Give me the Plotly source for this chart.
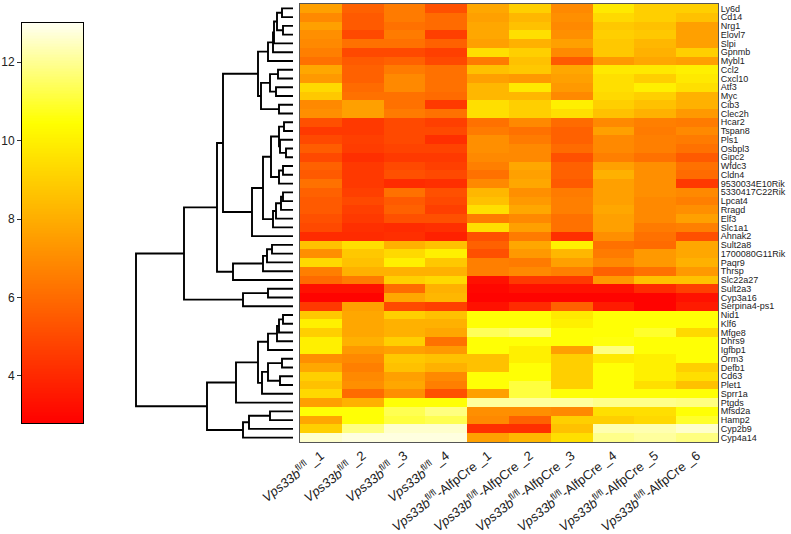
import numpy as np
import plotly.graph_objects as go

# ---------------- data ----------------
genes = ["Ly6d", "Cd14", "Nrg1", "Elovl7", "Slpi", "Gpnmb", "Mybl1", "Ccl2", "Cxcl10", "Atf3",
         "Myc", "Cib3", "Clec2h", "Hcar2", "Tspan8", "Pls1", "Osbpl3", "Gipc2", "Wfdc3", "Cldn4",
         "9530034E10Rik", "5330417C22Rik", "Lpcat4", "Rragd", "Elf3", "Slc1a1", "Ahnak2", "Sult2a8",
         "1700080G11Rik", "Paqr9", "Thrsp", "Slc22a27", "Sult2a3", "Cyp3a16", "Serpina4-ps1", "Nid1",
         "Klf6", "Mfge8", "Dhrs9", "Igfbp1", "Orm3", "Defb1", "Cd63", "Plet1", "Sprr1a", "Ptgds",
         "Mfsd2a", "Hamp2", "Cyp2b9", "Cyp4a14"]

sample_labels = (["<i>Vps33b</i><sup>fl/fl</sup> _%d" % i for i in range(1, 5)] +
                 ["<i>Vps33b</i><sup>fl/fl</sup>-AlfpCre _%d" % i for i in range(1, 7)])

ctrl_1 = [7.6, 6.9, 7.6, 7.1, 6.9, 6.6, 6.2, 7.8, 7.4, 9.3,
          8.8, 6.9, 7.1, 5.2, 4.5, 5.0, 5.6, 5.0, 5.7, 5.5,
          6.2, 5.7, 5.5, 5.5, 5.2, 5.0, 4.1, 8.6, 7.1, 9.3,
          6.6, 6.0, 3.3, 2.9, 4.5, 8.8, 10.0, 9.0, 10.0, 10.0,
          7.1, 7.8, 9.0, 8.6, 9.3, 7.6, 10.5, 7.8, 9.0, 12.6]
ctrl_2 = [5.7, 5.5, 5.5, 5.0, 6.2, 5.0, 5.5, 5.7, 5.7, 6.0,
          6.2, 7.6, 7.6, 4.5, 4.5, 4.7, 4.6, 4.2, 4.5, 4.5,
          4.5, 4.7, 5.0, 4.7, 4.5, 4.2, 4.1, 9.5, 8.8, 8.6,
          8.1, 6.5, 3.3, 2.9, 7.6, 7.8, 7.8, 7.8, 8.1, 7.4,
          6.9, 6.6, 6.9, 7.1, 6.0, 8.1, 10.5, 10.5, 11.8, 12.8]
ctrl_3 = [6.5, 6.5, 6.2, 6.5, 6.2, 5.0, 5.7, 6.5, 6.9, 6.9,
          6.2, 6.2, 6.5, 5.0, 5.0, 5.0, 4.8, 4.5, 5.0, 5.2,
          4.1, 6.2, 5.5, 5.7, 5.2, 4.1, 4.2, 8.1, 9.3, 10.0,
          8.1, 9.0, 6.0, 7.8, 5.0, 9.0, 8.1, 8.1, 9.0, 7.6,
          8.8, 8.6, 7.6, 7.8, 7.1, 10.5, 11.3, 11.1, 12.6, 12.8]
ctrl_4 = [5.2, 6.0, 6.0, 4.7, 5.7, 4.7, 5.0, 6.2, 6.2, 6.2,
          6.0, 4.5, 6.2, 4.7, 5.0, 4.2, 4.8, 4.5, 4.7, 5.0,
          4.2, 5.2, 5.0, 4.7, 5.2, 4.2, 3.8, 8.6, 10.0, 8.8,
          8.1, 9.3, 8.1, 8.3, 4.7, 8.6, 8.1, 7.8, 6.2, 7.4,
          8.6, 8.1, 6.9, 6.6, 5.2, 10.5, 11.8, 11.3, 12.6, 12.8]
cre_1 = [7.8, 7.6, 7.8, 7.8, 7.6, 9.5, 6.5, 8.6, 7.6, 8.3,
         8.3, 9.5, 9.5, 6.2, 6.5, 7.1, 7.1, 6.9, 6.6, 6.2,
         6.9, 8.3, 8.6, 9.5, 6.5, 9.5, 5.2, 5.7, 5.2, 6.6,
         6.6, 3.3, 3.0, 2.9, 3.3, 10.5, 10.5, 11.4, 10.5, 10.5,
         8.6, 8.6, 10.5, 10.5, 7.6, 12.1, 7.1, 6.9, 4.2, 7.6]
cre_2 = [9.0, 8.3, 8.6, 9.5, 8.1, 9.0, 8.6, 8.8, 7.4, 9.8,
         8.3, 9.0, 9.0, 6.9, 6.2, 6.5, 6.9, 6.9, 7.8, 7.6,
         7.8, 7.1, 7.4, 7.8, 6.9, 7.6, 6.5, 7.8, 7.4, 6.5,
         6.9, 4.5, 3.3, 2.9, 4.1, 10.5, 10.5, 11.6, 10.5, 10.0,
         10.0, 10.5, 10.5, 11.1, 11.1, 12.1, 7.1, 5.7, 4.2, 8.3]
cre_3 = [6.9, 7.1, 6.9, 7.1, 7.6, 6.9, 5.5, 7.8, 7.6, 7.4,
         6.9, 10.0, 9.5, 6.0, 5.7, 5.7, 6.0, 5.2, 5.7, 5.7,
         5.5, 6.5, 6.6, 6.6, 6.2, 6.2, 4.2, 10.0, 8.3, 7.6,
         6.6, 4.5, 3.3, 2.9, 5.7, 9.8, 10.0, 10.5, 10.5, 7.6,
         9.0, 9.0, 9.0, 9.0, 10.5, 12.1, 6.9, 9.0, 8.6, 9.5]
cre_4 = [9.8, 9.3, 8.8, 9.0, 8.8, 8.8, 7.4, 9.8, 9.5, 9.5,
         9.3, 9.0, 8.6, 6.9, 7.6, 6.9, 6.9, 6.6, 7.6, 8.1,
         7.6, 7.6, 7.6, 7.8, 7.6, 7.6, 7.1, 6.2, 6.5, 6.9,
         5.7, 7.4, 3.3, 2.9, 3.6, 10.5, 10.5, 10.5, 10.6, 11.8,
         9.8, 10.5, 10.5, 10.5, 10.5, 11.9, 9.5, 9.0, 12.3, 11.9]
cre_5 = [9.0, 9.0, 8.6, 8.8, 8.3, 8.1, 7.8, 9.8, 9.0, 10.0,
         9.0, 8.6, 8.1, 6.6, 6.5, 6.6, 6.6, 6.2, 7.1, 7.1,
         7.1, 7.1, 6.9, 6.9, 6.9, 6.5, 6.2, 6.0, 7.4, 7.4,
         6.2, 8.6, 4.1, 2.9, 2.9, 10.5, 10.5, 10.9, 10.5, 10.5,
         10.0, 10.0, 10.0, 9.5, 10.5, 11.9, 9.5, 9.3, 12.3, 12.1]
cre_6 = [9.0, 8.6, 7.6, 7.6, 7.6, 9.0, 7.6, 10.0, 9.8, 9.5,
         8.1, 8.1, 7.4, 6.5, 6.9, 6.5, 6.2, 5.5, 6.2, 6.0,
         4.5, 6.9, 6.6, 7.1, 7.6, 6.6, 5.2, 7.8, 7.8, 8.1,
         7.4, 8.6, 4.7, 3.3, 3.6, 10.5, 10.5, 9.3, 10.5, 10.5,
         10.5, 9.0, 9.5, 8.6, 10.5, 11.8, 10.5, 10.9, 12.6, 11.8]

colorbar_ticks = [4, 6, 8, 10, 12]
z_min, z_max = 2.8, 13.0

# row dendrogram: (child_a, child_b, merge height); leaves are 0..49, clusters 50+
merges = [
    (0, 1, 1.1), (2, 3, 1.0), (50, 51, 1.6), (52, 4, 1.9), (53, 5, 2.0), (54, 6, 2.5),
    (7, 8, 1.5), (9, 10, 1.7), (56, 57, 2.3), (11, 12, 1.4), (58, 59, 3.2), (55, 60, 3.5),
    (13, 14, 0.9), (16, 17, 0.7), (15, 63, 1.3), (62, 64, 1.4), (18, 19, 1.0), (66, 20, 1.4),
    (65, 67, 2.2), (21, 22, 1.0), (69, 23, 1.2), (70, 24, 1.7), (71, 25, 2.0), (68, 72, 3.0),
    (73, 26, 4.1), (61, 74, 7.0), (27, 28, 2.1), (76, 29, 2.6), (77, 30, 3.0), (78, 31, 6.0),
    (75, 79, 7.6), (32, 33, 2.5), (81, 34, 5.0), (80, 82, 10.9), (35, 36, 1.0), (84, 37, 1.4),
    (85, 38, 1.6), (86, 39, 2.5), (40, 41, 1.1), (42, 43, 1.3), (88, 89, 2.5), (90, 44, 3.1),
    (87, 91, 3.5), (92, 45, 5.7), (46, 47, 2.3), (94, 48, 4.4), (95, 49, 5.0), (93, 96, 8.6),
    (83, 97, 15.7),
]

# ---------------- build ----------------
columns = [ctrl_1, ctrl_2, ctrl_3, ctrl_4, cre_1, cre_2, cre_3, cre_4, cre_5, cre_6]
n_genes = len(genes)
z = [[col[i] for col in columns] for i in range(n_genes)]

heat_scale = [[0.0, "#FF0000"], [0.75, "#FFFF00"], [1.0, "#FFFFF2"]]

W, H = 791, 534
fx = lambda px: px / W
fy = lambda py: 1 - py / H

# dendrogram segments
pos = {i: float(i) for i in range(n_genes)}
hgt = {i: 0.0 for i in range(n_genes)}
dx, dy = [], []
for k, (a, b, h) in enumerate(merges):
    cid = n_genes + k
    dx += [hgt[a], h, h, hgt[b], None]
    dy += [pos[a], pos[a], pos[b], pos[b], None]
    pos[cid] = (pos[a] + pos[b]) / 2
    hgt[cid] = h

fig = go.Figure()

fig.add_trace(go.Heatmap(
    z=z, x=list(range(len(columns))), y=list(range(n_genes)),
    colorscale=heat_scale, zmin=z_min, zmax=z_max, showscale=False,
    xaxis="x", yaxis="y", hoverongaps=False))

fig.add_trace(go.Scatter(
    x=dx, y=dy, mode="lines", line=dict(color="black", width=1.9),
    xaxis="x2", yaxis="y2", hoverinfo="skip", showlegend=False))

grad = np.linspace(z_min, z_max, 256)
fig.add_trace(go.Heatmap(
    z=[[v] for v in grad], x=[0], y=grad,
    colorscale=heat_scale, zmin=z_min, zmax=z_max, showscale=False,
    xaxis="x3", yaxis="y3", hoverinfo="skip"))

label_font = dict(family="Liberation Sans, Arial, sans-serif", color="#222222")

fig.update_layout(
    width=W, height=H,
    margin=dict(l=0, r=0, t=0, b=0, pad=0, autoexpand=False),
    paper_bgcolor="white", plot_bgcolor="white",
    showlegend=False,
    xaxis=dict(domain=[fx(300), fx(718)], anchor="y", range=[-0.5, 9.5],
               tickvals=list(range(len(columns))), ticktext=sample_labels,
               tickangle=-38, tickfont=dict(size=13, **label_font),
               showline=True, mirror=True, linecolor="#555555", linewidth=1,
               ticks="", showgrid=False, zeroline=False, automargin=False),
    yaxis=dict(domain=[fy(442), fy(4)], anchor="x", range=[n_genes - 0.5, -0.5],
               tickvals=list(range(n_genes)), ticktext=genes, side="right",
               tickfont=dict(size=9, **label_font),
               showline=True, mirror=True, linecolor="#555555", linewidth=1,
               ticks="", showgrid=False, zeroline=False, automargin=False),
    xaxis2=dict(domain=[fx(130), fx(297)], anchor="y2", range=[16.3, -0.4],
                visible=False, automargin=False),
    yaxis2=dict(domain=[fy(442), fy(4)], anchor="x2", range=[n_genes - 0.5, -0.5],
                visible=False, automargin=False),
    xaxis3=dict(domain=[fx(22), fx(83)], anchor="y3", range=[-0.5, 0.5],
                showticklabels=False, ticks="", showline=True, mirror=True,
                linecolor="black", linewidth=1, showgrid=False, zeroline=False,
                automargin=False),
    yaxis3=dict(domain=[fy(423), fy(23)], anchor="x3", range=[z_min, z_max],
                tickvals=colorbar_ticks, ticks="outside", ticklen=4, tickcolor="#333333",
                tickfont=dict(size=12, **label_font), side="left",
                showline=True, mirror=True, linecolor="black", linewidth=1,
                showgrid=False, zeroline=False, automargin=False),
)

fig.write_html("out.html", config={"displayModeBar": False},
               post_script="document.body.style.margin='0';")
